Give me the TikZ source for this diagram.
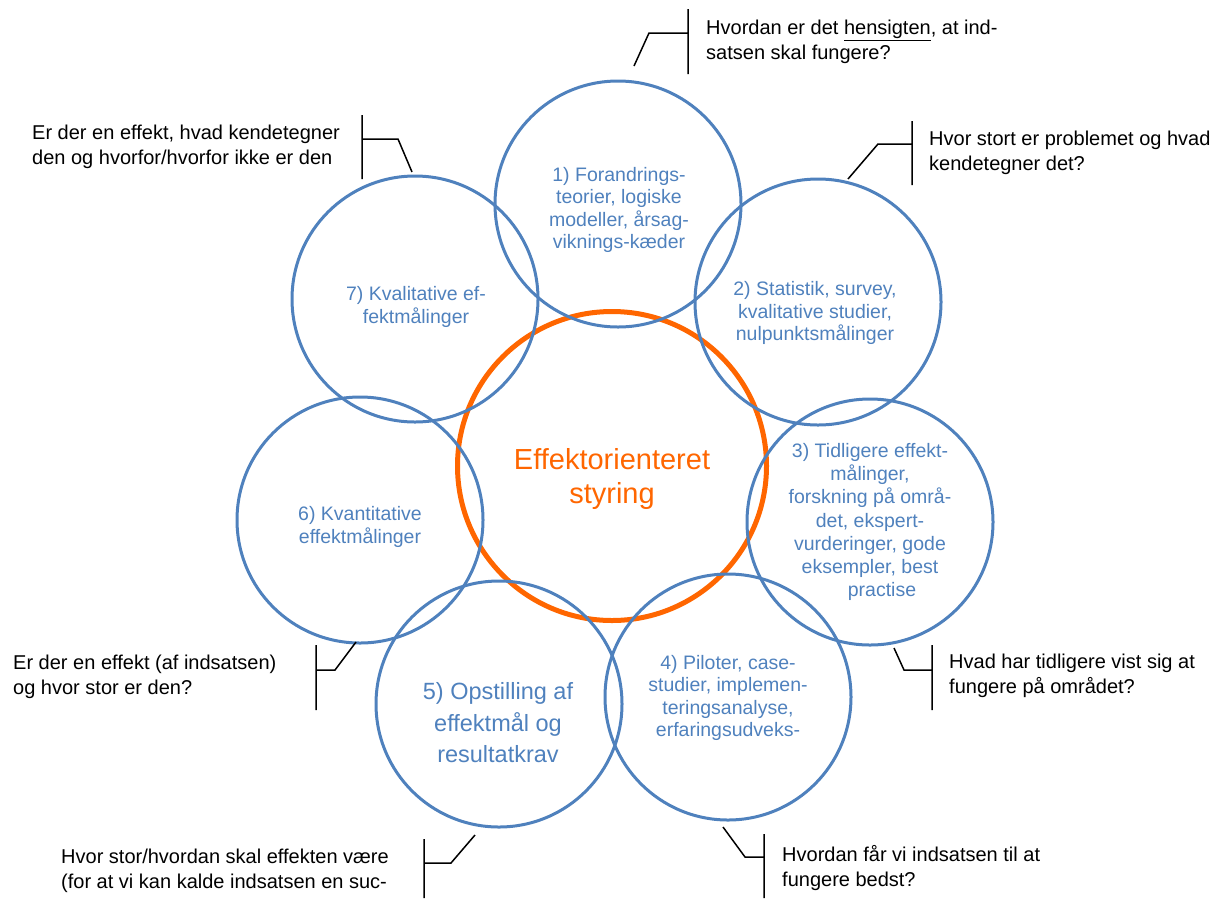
\documentclass[tikz,border=0pt]{standalone}
\usepackage{fontspec}
\setmainfont{Liberation Sans}
\definecolor{ringblue}{RGB}{79,129,189}
\definecolor{huborange}{RGB}{255,102,0}

\begin{document}
\begin{tikzpicture}[x=1pt, y=-1pt,
    ring/.style={draw=ringblue, line width=3pt, circle, minimum size=246pt, inner sep=0pt},
    hub/.style={draw=huborange, line width=5pt, circle, minimum size=309pt, inner sep=0pt},
    txt/.style={text=ringblue, align=center, inner sep=0pt, font=\fontsize{19.5}{22.5}\selectfont},
    note/.style={align=left, inner sep=0pt, font=\fontsize{20}{24.5}\selectfont},
    callout/.style={draw=black, line width=1.5pt}]
    \useasboundingbox (0,0) rectangle (1215,898);
    % centre
    \node[hub] (hub) at (612,466) {};
    \node[text=huborange, align=center, inner sep=0pt, font=\fontsize{29}{34}\selectfont] (hubtxt) at (612,479) {Effektorienteret\\styring};
    % the seven rings
    \node[ring] (c1) at (618,204) {};
    \node[ring] (c2) at (818,302) {};
    \node[ring] (c3) at (870,522) {};
    \node[ring] (c4) at (728,697) {};
    \node[ring] (c5) at (499,704) {};
    \node[ring] (c6) at (360,520) {};
    \node[ring] (c7) at (415,299) {};
    \node[txt] (t1) at (619,210) {1) Forandrings-\\teorier, logiske\\modeller, årsag-\\viknings-kæder};
    \node[txt] (t2) at (815,313) {2) Statistik, survey,\\kvalitative studier,\\nulpunktsmålinger};
    \node[txt, font=\fontsize{19.5}{23.2}\selectfont] (t3) at (870,522) {3) Tidligere effekt-\\målinger,\\forskning på områ-\\det, ekspert-\\vurderinger, gode\\eksempler, best\\\hspace*{24pt}practise};
    \node[txt] (t4) at (728,698) {4) Piloter, case-\\studier, implemen-\\teringsanalyse,\\erfaringsudveks-};
    \node[txt, font=\fontsize{23.5}{31.5}\selectfont] (t5) at (498,723) {5) Opstilling af\\effektmål og\\resultatkrav};
    \node[txt] (t6) at (360,527) {6) Kvantitative\\effektmålinger};
    \node[txt] (t7) at (416,307) {7) Kvalitative ef-\\fektmålinger};
    % questions
    \draw[callout] (688,9) -- (688,74) (688,33) -- (649,33) -- (634,66);
    \node[note, anchor=west] (q1) at (706,42) {Hvordan er det \underline{hensigten}, at ind-\\satsen skal fungere?};
    \draw[callout] (912,121) -- (912,185) (912,144) -- (878,144) -- (848,179);
    \node[note, anchor=west] (q2) at (929,153) {Hvor stort er problemet og hvad\\kendetegner det?};
    \draw[callout] (932,645) -- (932,710) (932,670) -- (904,670) -- (894,648);
    \node[note, anchor=west] (q3) at (949,676) {Hvad har tidligere vist sig at\\fungere på området?};
    \draw[callout] (764,834) -- (764,898) (764,857) -- (745,857) -- (723,827);
    \node[note, anchor=west] (q4) at (782,868) {Hvordan får vi indsatsen til at\\fungere bedst?};
    \draw[callout] (424,839) -- (424,898) (424,863) -- (451,863) -- (475,835);
    \node[note, anchor=west] (q5) at (61,871) {Hvor stor/hvordan skal effekten være\\(for at vi kan kalde indsatsen en suc-};
    \draw[callout] (316,645) -- (316,710) (316,670) -- (335,670) -- (356,642);
    \node[note, anchor=west] (q6) at (13,677) {Er der en effekt (af indsatsen)\\og hvor stor er den?};
    \draw[callout] (362,115) -- (362,179) (362,139) -- (398,139) -- (412,172);
    \node[note, anchor=west] (q7) at (32,147) {Er der en effekt, hvad kendetegner\\den og hvorfor/hvorfor ikke er den};
\end{tikzpicture}
\end{document}
